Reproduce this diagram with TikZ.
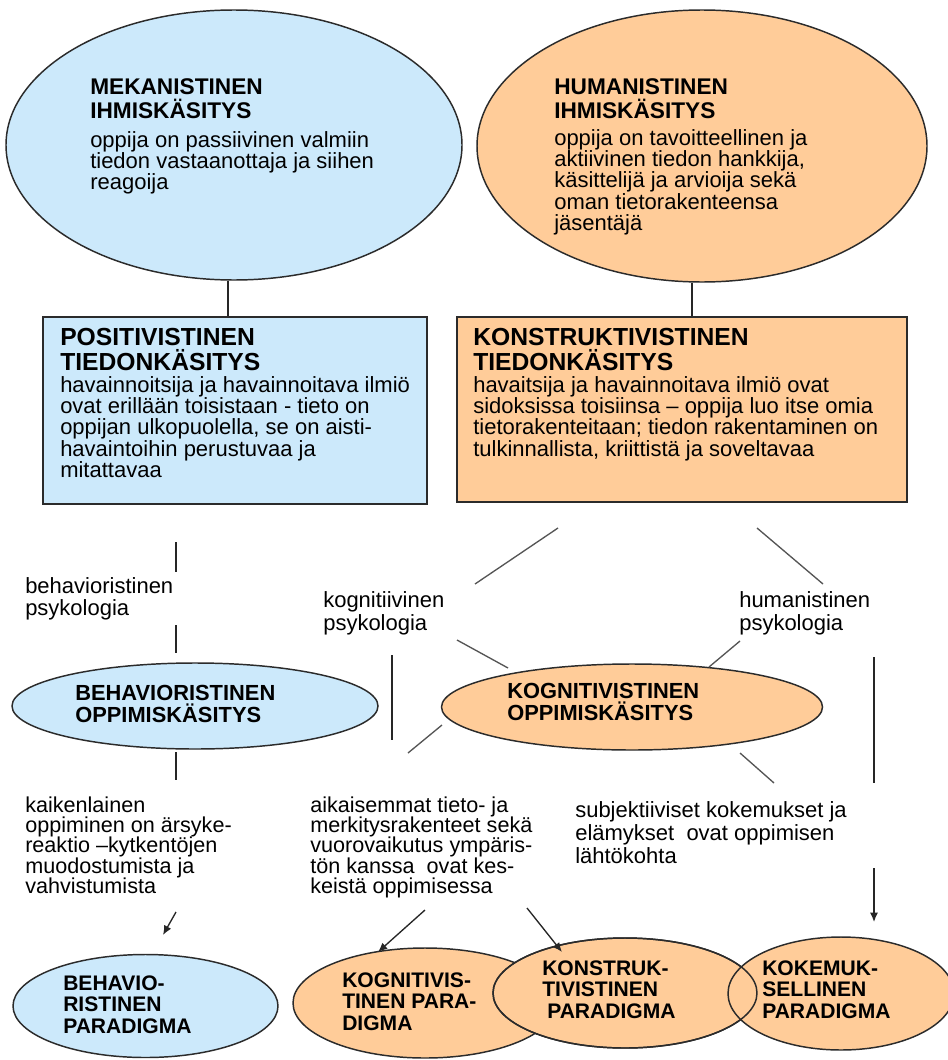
\documentclass[tikz,border=0pt]{standalone}
\usepackage{fontspec}
\setmainfont{Liberation Sans}
\usetikzlibrary{shapes.geometric,arrows.meta}
\newdimen\pxu \pxu=0.75pt
\newcommand\mylines[1]{\vtop{\lineskiplimit=-100pt\halign{##\hfil\cr#1\crcr}}}
\newcommand\fHeadE{\fontsize{17pt}{18pt}\selectfont\bfseries}
\newcommand\fBody{\fontsize{16.5pt}{16pt}\selectfont}
\newcommand\fHeadB{\fontsize{18.5pt}{18.75pt}\selectfont\bfseries}
\newcommand\fLab{\fontsize{16.5pt}{16.5pt}\selectfont}
\newcommand\fLabB{\fontsize{16.5pt}{17.25pt}\selectfont}
\newcommand\fLabLow{\fontsize{16.2pt}{15.3pt}\selectfont}
\newcommand\fHeadM{\fontsize{16.4pt}{17pt}\selectfont\bfseries}
\newcommand\fHeadP{\fontsize{15.8pt}{16.2pt}\selectfont\bfseries}
\definecolor{blueF}{HTML}{CCE9FB}
\definecolor{orangeF}{HTML}{FFCC99}
\definecolor{edgeC}{HTML}{2B2B2B}
\definecolor{lineG}{HTML}{555555}
\tikzset{
  ell/.style={ellipse, draw=edgeC, line width=1.1pt, inner sep=0pt},
  boxN/.style={rectangle, draw=edgeC, line width=1.1pt, inner sep=0pt},
  txt/.style={anchor=base west, inner sep=0pt, text=black},
  conn/.style={draw=black!85, line width=1pt},
  diag/.style={draw=lineG, line width=1pt},
  arr/.style={draw=black!85, line width=1pt, -{Latex[length=7pt,width=6pt]}}
}
\begin{document}
\begin{tikzpicture}[x=0.75pt,y=-0.75pt]
\useasboundingbox (0,0) rectangle (947,1060);
\fill[white] (0,0) rectangle (947,1060);

% shapes
\node[ell, fill=blueF, minimum width=456\pxu, minimum height=270\pxu] (e1) at (234,145) {};
\node[ell, fill=orangeF, minimum width=450\pxu, minimum height=272\pxu] (e2) at (702,146) {};
\node[boxN, fill=blueF, minimum width=384\pxu, minimum height=187\pxu] (b1) at (235,410.5) {};
\node[boxN, fill=orangeF, minimum width=450\pxu, minimum height=185\pxu] (b2) at (682,409.5) {};
\node[ell, fill=blueF, minimum width=366\pxu, minimum height=86\pxu] (e3) at (195,706) {};
\node[ell, fill=orangeF, minimum width=381\pxu, minimum height=86\pxu] (e4) at (632,707) {};
\node[ell, fill=blueF, minimum width=265\pxu, minimum height=103\pxu] (p1) at (145.5,1006) {};
\node[ell, fill=orangeF, minimum width=264\pxu, minimum height=110\pxu] (p2) at (425,1003) {};
\node[ell, fill=orangeF, minimum width=264\pxu, minimum height=110\pxu] (p3) at (625,993) {};
\node[ell, fill=orangeF, minimum width=226\pxu, minimum height=113\pxu] (p4) at (841,993.5) {};
\node[ell, minimum width=264\pxu, minimum height=110\pxu] (p3o) at (p3) {};

% texts
\node[txt] (e1h) at (90,94) {\fHeadE\mylines{MEKANISTINEN\cr IHMISKÄSITYS}};
\node[txt] (e1b) at (90,147) {\fBody\mylines{oppija on passiivinen valmiin\cr tiedon vastaanottaja ja siihen\cr reagoija}};
\node[txt] (e2h) at (554,94) {\fHeadE\mylines{HUMANISTINEN\cr IHMISKÄSITYS}};
\node[txt] (e2b) at (554,145) {\fBody\mylines{oppija on tavoitteellinen ja\cr aktiivinen tiedon hankkija,\cr käsittelijä ja arvioija sekä\cr oman tietorakenteensa\cr jäsentäjä}};
\node[txt] (b1h) at (60,345) {\fHeadB\mylines{POSITIVISTINEN\cr TIEDONKÄSITYS}};
\node[txt] (b1b) at (60,392) {\fBody\mylines{havainnoitsija ja havainnoitava ilmiö\cr ovat erillään toisistaan - tieto on\cr oppijan ulkopuolella, se on aisti-\cr havaintoihin perustuvaa ja\cr mitattavaa}};
\node[txt] (b2h) at (473,345) {\fHeadB\mylines{KONSTRUKTIVISTINEN\cr TIEDONKÄSITYS}};
\node[txt] (b2b) at (473,392) {\fBody\mylines{havaitsija ja havainnoitava ilmiö ovat\cr sidoksissa toisiinsa – oppija luo itse omia\cr tietorakenteitaan; tiedon rakentaminen on\cr tulkinnallista, kriittistä ja soveltavaa}};
\node[txt] (l1) at (25,593) {\fLab\mylines{behavioristinen\cr psykologia}};
\node[txt] (l2) at (323,607) {\fLabB\mylines{kognitiivinen\cr psykologia}};
\node[txt] (l3) at (739,607) {\fLabB\mylines{humanistinen\cr psykologia}};
\node[txt] (e3t) at (75,700) {\fHeadM\mylines{BEHAVIORISTINEN\cr OPPIMISKÄSITYS}};
\node[txt] (e4t) at (507,698) {\fHeadM\mylines{KOGNITIVISTINEN\cr OPPIMISKÄSITYS}};
\node[txt] (l4) at (25,812) {\fLabLow\mylines{kaikenlainen\cr oppiminen on ärsyke-\cr reaktio –kytkentöjen\cr muodostumista ja\cr vahvistumista}};
\node[txt] (l5) at (310,812) {\fLabLow\mylines{aikaisemmat tieto- ja\cr merkitysrakenteet sekä\cr vuorovaikutus ympäris-\cr tön kanssa\ \ ovat kes-\cr keistä oppimisessa}};
\node[txt] (l6) at (575,817) {\fLabB\mylines{subjektiiviset kokemukset ja\cr elämykset\ \ ovat oppimisen\cr lähtökohta}};
\node[txt] (p1t) at (63,990) {\fHeadP\mylines{BEHAVIO-\cr RISTINEN\cr PARADIGMA}};
\node[txt] (p2t) at (342,987) {\fHeadP\mylines{KOGNITIVIS-\cr TINEN PARA-\cr DIGMA}};
\node[txt] (p3t) at (542,975) {\fHeadP\mylines{KONSTRUK-\cr TIVISTINEN\cr \hskip5\pxu PARADIGMA}};
\node[txt] (p4t) at (762,975) {\fHeadP\mylines{KOKEMUK-\cr SELLINEN\cr PARADIGMA}};

% connector coordinates
\coordinate (c1) at (228,0);
\coordinate (c2) at (692,0);
\coordinate (s1a) at (176,542); \coordinate (s1b) at (176,572);
\coordinate (s2a) at (176,625); \coordinate (s2b) at (176,653);
\coordinate (s3a) at (176,752); \coordinate (s3b) at (176,780);
\coordinate (a1s) at (176,912); \coordinate (a1e) at (163,935);
\coordinate (a2s) at (425,910); \coordinate (a2e) at (378,952);
\coordinate (a3s) at (527,908); \coordinate (a3e) at (562,952);
\coordinate (a4s) at (874,868); \coordinate (a4e) at (874,922);
\coordinate (v1a) at (874,657); \coordinate (v1b) at (874,783);
\coordinate (v2a) at (392,655); \coordinate (v2b) at (392,740);
\coordinate (d1a) at (558,528); \coordinate (d1b) at (475,584);
\coordinate (d2a) at (457,640); \coordinate (d2b) at (508,668);
\coordinate (d3a) at (757,528); \coordinate (d3b) at (823,584);
\coordinate (d4a) at (740,641); \coordinate (d4b) at (709,667);
\coordinate (d5a) at (442,725); \coordinate (d5b) at (408,753);
\coordinate (d6a) at (740,753); \coordinate (d6b) at (774,783);

% connectors
\draw[conn] (c1 |- e1.south) -- (c1 |- b1.north);
\draw[conn] (c2 |- e2.south) -- (c2 |- b2.north);
\draw[conn] (s1a) -- (s1b);
\draw[conn] (s2a) -- (s2b);
\draw[conn] (s3a) -- (s3b);
\draw[conn] (v1a) -- (v1b);
\draw[conn] (v2a) -- (v2b);
\draw[diag] (d1a) -- (d1b);
\draw[diag] (d2a) -- (d2b);
\draw[diag] (d3a) -- (d3b);
\draw[diag] (d4a) -- (d4b);
\draw[diag] (d5a) -- (d5b);
\draw[diag] (d6a) -- (d6b);
\draw[arr] (a1s) -- (a1e);
\draw[arr] (a2s) -- (a2e);
\draw[arr] (a3s) -- (a3e);
\draw[arr] (a4s) -- (a4e);
\end{tikzpicture}
\end{document}
